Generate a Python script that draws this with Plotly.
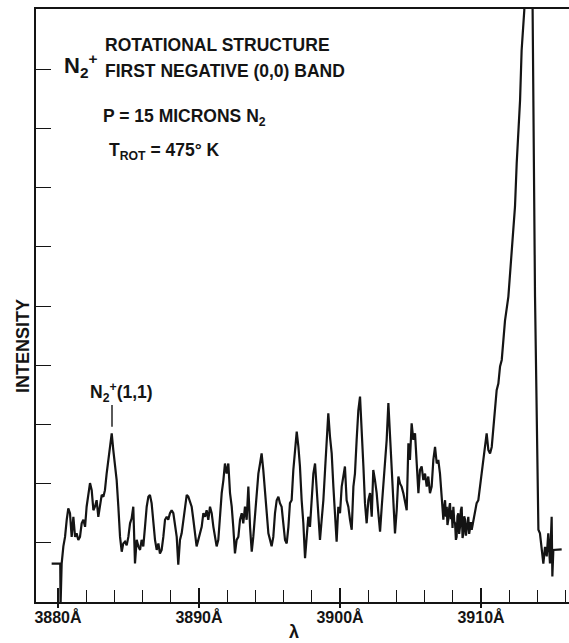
import plotly.graph_objects as go

# ---- data (wavelength in Angstrom, intensity in tick units) ----
WAVELENGTH = [
    3879.55, 3880.16, 3880.18, 3880.26, 3880.38, 3880.50, 3880.62, 3880.73, 3880.85, 3880.97,
    3881.09, 3881.21, 3881.32, 3881.44, 3881.56, 3881.68, 3881.80, 3881.92, 3882.03, 3882.15,
    3882.27, 3882.39, 3882.51, 3882.62, 3882.74, 3882.86, 3882.98, 3883.10, 3883.22, 3883.33,
    3883.45, 3883.57, 3883.69, 3883.81, 3883.92, 3884.04, 3884.16, 3884.28, 3884.40, 3884.52,
    3884.63, 3884.75, 3884.87, 3884.99, 3885.11, 3885.22, 3885.34, 3885.46, 3885.58, 3885.70,
    3885.82, 3885.93, 3886.05, 3886.17, 3886.29, 3886.41, 3886.52, 3886.64, 3886.76, 3886.88,
    3887.00, 3887.12, 3887.23, 3887.35, 3887.47, 3887.59, 3887.71, 3887.82, 3887.94, 3888.06,
    3888.18, 3888.30, 3888.42, 3888.53, 3888.65, 3888.77, 3888.89, 3889.01, 3889.13, 3889.24,
    3889.36, 3889.48, 3889.60, 3889.72, 3889.83, 3889.95, 3890.07, 3890.19, 3890.31, 3890.43,
    3890.54, 3890.66, 3890.78, 3890.90, 3891.02, 3891.13, 3891.25, 3891.37, 3891.49, 3891.61,
    3891.73, 3891.84, 3891.96, 3892.08, 3892.20, 3892.32, 3892.43, 3892.55, 3892.67, 3892.79,
    3892.91, 3893.03, 3893.14, 3893.26, 3893.38, 3893.50, 3893.62, 3893.74, 3893.85, 3893.97,
    3894.09, 3894.21, 3894.33, 3894.44, 3894.56, 3894.68, 3894.80, 3894.92, 3895.04, 3895.15,
    3895.27, 3895.39, 3895.51, 3895.63, 3895.74, 3895.86, 3895.98, 3896.10, 3896.22, 3896.34,
    3896.45, 3896.57, 3896.69, 3896.81, 3896.93, 3897.05, 3897.16, 3897.28, 3897.40, 3897.52,
    3897.64, 3897.75, 3897.87, 3897.99, 3898.11, 3898.23, 3898.35, 3898.46, 3898.58, 3898.70,
    3898.82, 3898.94, 3899.05, 3899.17, 3899.29, 3899.41, 3899.53, 3899.65, 3899.76, 3899.88,
    3900.00, 3900.12, 3900.24, 3900.35, 3900.47, 3900.59, 3900.71, 3900.83, 3900.95, 3901.06,
    3901.18, 3901.30, 3901.42, 3901.54, 3901.66, 3901.77, 3901.89, 3902.01, 3902.13, 3902.25,
    3902.36, 3902.48, 3902.60, 3902.72, 3902.84, 3902.96, 3903.07, 3903.19, 3903.31, 3903.43,
    3903.55, 3903.66, 3903.78, 3903.90, 3904.02, 3904.14, 3904.26, 3904.37, 3904.49, 3904.61,
    3904.73, 3904.85, 3904.96, 3905.08, 3905.20, 3905.32, 3905.44, 3905.56, 3905.67, 3905.79,
    3905.91, 3906.03, 3906.15, 3906.26, 3906.38, 3906.50, 3906.62, 3906.74, 3906.86, 3906.97,
    3907.09, 3907.21, 3907.33, 3907.39, 3907.45, 3907.51, 3907.57, 3907.62, 3907.68, 3907.74,
    3907.80, 3907.86, 3907.92, 3907.98, 3908.04, 3908.10, 3908.16, 3908.22, 3908.27, 3908.33,
    3908.39, 3908.45, 3908.51, 3908.57, 3908.63, 3908.69, 3908.75, 3908.81, 3908.87, 3908.93,
    3908.98, 3909.04, 3909.10, 3909.16, 3909.22, 3909.28, 3909.34, 3909.40, 3909.46, 3909.57,
    3909.69, 3909.81, 3909.93, 3910.05, 3910.17, 3910.28, 3910.40, 3910.52, 3910.64, 3910.76,
    3910.88, 3910.99, 3911.11, 3911.23, 3911.35, 3911.47, 3911.70, 3911.94, 3912.17, 3912.29,
    3912.41, 3912.53, 3912.77, 3912.88, 3913.07, 3913.35, 3913.66, 3913.83, 3913.95, 3914.07,
    3914.18, 3914.30, 3914.42, 3914.54, 3914.66, 3914.77, 3914.89, 3915.01, 3915.06, 3915.13,
    3915.25, 3915.72,
]
INTENSITY = [
    0.65, 0.65, -0.08, 0.65, 0.94, 1.10, 1.39, 1.58, 1.50, 1.10,
    1.44, 1.10, 1.16, 1.05, 1.10, 1.33, 1.39, 1.27, 1.61, 1.78,
    2.01, 1.89, 1.55, 1.61, 1.72, 1.44, 1.67, 1.81, 1.78, 1.89,
    2.17, 2.40, 2.62, 2.85, 2.57, 2.29, 2.06, 1.61, 1.10, 0.85,
    0.99, 1.02, 0.96, 1.10, 1.33, 1.41, 1.61, 0.65, 1.05, 0.94,
    0.88, 1.05, 0.94, 1.27, 1.61, 1.78, 1.81, 1.67, 1.33, 1.05,
    0.88, 0.99, 0.82, 0.88, 1.10, 1.39, 1.44, 1.39, 1.50, 1.55,
    1.50, 1.33, 1.10, 0.63, 1.05, 1.16, 1.39, 1.61, 1.81, 1.78,
    1.67, 1.61, 1.39, 1.10, 0.94, 1.05, 1.16, 1.27, 1.50, 1.44,
    1.55, 1.39, 1.61, 1.50, 1.27, 1.10, 0.94, 1.05, 1.50, 1.84,
    2.06, 2.34, 2.17, 2.34, 1.84, 1.61, 1.27, 0.82, 1.05, 1.10,
    1.39, 1.50, 1.33, 1.61, 1.39, 1.95, 1.27, 0.85, 1.10, 1.50,
    1.84, 2.17, 2.34, 2.51, 2.23, 1.84, 1.39, 1.16, 1.05, 0.94,
    1.10, 1.50, 1.72, 1.78, 1.67, 1.61, 1.33, 1.05, 0.99, 1.27,
    1.67, 1.72, 2.23, 2.62, 2.88, 2.62, 2.29, 1.72, 1.33, 0.74,
    1.16, 1.44, 1.27, 1.84, 2.17, 2.34, 1.95, 1.61, 1.05, 1.39,
    1.72, 2.23, 2.74, 3.19, 2.79, 2.51, 1.95, 1.44, 1.02, 1.61,
    1.50, 1.95, 2.12, 2.29, 1.72, 1.61, 1.39, 1.22, 1.95, 2.17,
    2.74, 3.24, 3.47, 2.96, 2.29, 1.67, 1.33, 1.72, 1.84, 1.44,
    2.23, 2.06, 1.84, 1.50, 1.19, 1.61, 1.95, 2.34, 2.74, 3.36,
    2.85, 2.29, 1.84, 1.16, 1.55, 2.12, 2.00, 1.95, 1.84, 1.72,
    1.55, 2.68, 2.40, 3.02, 2.74, 2.85, 2.40, 1.84, 2.23, 2.29,
    2.06, 2.17, 1.95, 2.12, 1.84, 1.95, 2.40, 2.62, 2.34, 2.40,
    2.17, 1.84, 1.39, 1.61, 1.72, 1.44, 1.61, 1.30, 1.39, 1.58,
    1.67, 1.40, 1.55, 1.25, 1.61, 1.36, 1.33, 1.05, 1.10, 1.45,
    1.50, 1.15, 1.27, 1.55, 1.61, 1.08, 1.16, 1.45, 1.39, 1.12,
    1.22, 1.40, 1.44, 1.15, 1.27, 1.35, 1.22, 1.30, 1.33, 1.50,
    1.67, 1.72, 1.95, 2.17, 2.40, 2.62, 2.85, 2.57, 2.51, 2.62,
    2.96, 3.24, 3.58, 3.69, 3.98, 4.09, 4.75, 5.16, 5.89, 6.28,
    6.68, 7.41, 8.48, 9.32, 10.00, 14.00, 10.00, 5.16, 3.07, 1.22,
    1.16, 0.88, 0.65, 0.93, 0.77, 1.16, 0.65, 1.44, 0.43, 0.88,
    0.88, 0.89,
]

MAJOR_TICKS = [3880, 3890, 3900, 3910]
MAJOR_LABELS = ["3880Å", "3890Å", "3900Å", "3910Å"]
MINOR_TICKS = [3882, 3884, 3886, 3888, 3892, 3894, 3896, 3898,
               3902, 3904, 3906, 3908, 3912, 3914, 3916]
Y_TICKS = [1, 2, 3, 4, 5, 6, 7, 8, 9]

X_RANGE = [3878.44, 3916.24]
Y_RANGE = [0, 10.02]

INK = "#141414"
FONT = "Liberation Sans"

fig = go.Figure()
fig.add_trace(go.Scatter(
    x=WAVELENGTH, y=INTENSITY, mode="lines",
    line=dict(color=INK, width=2.2), hoverinfo="skip", showlegend=False,
))
# empty trace so the overlay axis (outer stub of the major ticks) is drawn
fig.add_trace(go.Scatter(x=[], y=[], xaxis="x2", yaxis="y", showlegend=False))

fig.update_layout(
    width=569, height=643,
    margin=dict(l=36, r=0, t=9, b=41),
    paper_bgcolor="white", plot_bgcolor="white",
    font=dict(family=FONT, color=INK),
    xaxis=dict(
        range=X_RANGE, showgrid=False, zeroline=False,
        showline=True, linecolor=INK, linewidth=1.8, mirror=True,
        tickmode="array", tickvals=MAJOR_TICKS, ticktext=MAJOR_LABELS,
        ticks="inside", ticklen=14, tickwidth=1.8, tickcolor=INK,
        tickfont=dict(family=FONT, size=16, color=INK, weight=700),
        minor=dict(tickmode="array", tickvals=MINOR_TICKS, ticks="inside",
                   ticklen=12, tickwidth=1.4, tickcolor=INK, showgrid=False),
    ),
    xaxis2=dict(
        range=X_RANGE, overlaying="x", anchor="y", side="bottom",
        showgrid=False, zeroline=False, showline=False,
        tickmode="array", tickvals=MAJOR_TICKS, showticklabels=False,
        ticks="outside", ticklen=5, tickwidth=1.8, tickcolor=INK,
    ),
    yaxis=dict(
        range=Y_RANGE, showgrid=False, zeroline=False,
        showline=True, linecolor=INK, linewidth=1.8, mirror=False,
        tickmode="array", tickvals=Y_TICKS, showticklabels=False,
        ticks="inside", ticklen=15, tickwidth=1.4, tickcolor=INK,
    ),
)

def px_to_paper(px, py):
    return (px - 36) / 533.0, (602 - py) / 593.0

def label(text, px, py, size=17.5, xanchor="left", angle=0):
    x, y = px_to_paper(px, py)
    fig.add_annotation(text=text, x=x, y=y, xref="paper", yref="paper",
                       xanchor=xanchor, yanchor="middle", showarrow=False,
                       textangle=angle,
                       font=dict(family=FONT, size=size, color=INK, weight=700))

label("ROTATIONAL STRUCTURE", 103, 45)
label("FIRST NEGATIVE (0,0) BAND", 103, 71)
label("N<sub>2</sub><sup>+</sup>", 99, 65, size=22, xanchor="right")
label("P = 15 MICRONS N<sub>2</sub>", 101, 117)
label("T<sub>ROT</sub> = 475° K", 107, 151)
label("N<sub>2</sub><sup>+</sup>(1,1)", 88, 392)
label("INTENSITY", 23, 346, size=18, xanchor="center", angle=-90)
label("λ", 294, 632, size=18, xanchor="center")

# marker line under the N2+(1,1) label
fig.add_shape(type="line", x0=3883.83, x1=3883.83, y0=2.96, y1=3.33,
              xref="x", yref="y", line=dict(color=INK, width=1.4))

fig.write_html(
    "out.html",
    config={"displayModeBar": False},
    post_script="document.body.style.margin='0';document.body.style.overflow='hidden';",
)
